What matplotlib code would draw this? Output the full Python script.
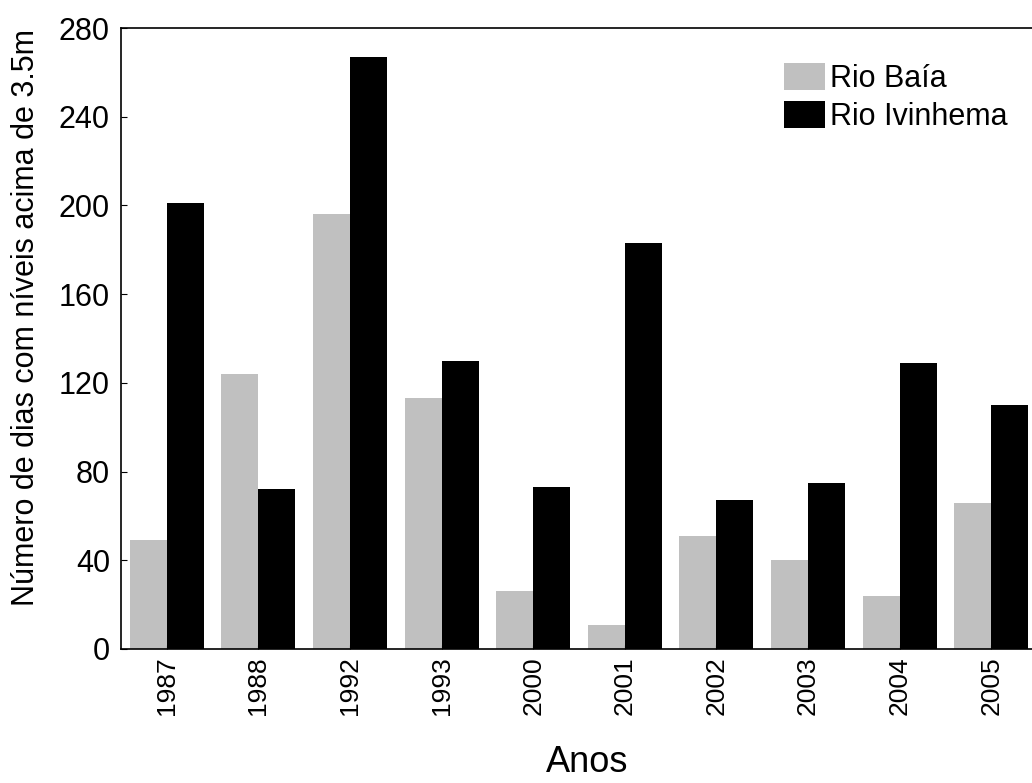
import numpy as np
import matplotlib
matplotlib.use("Agg")
import matplotlib.pyplot as plt

anos = ['1987', '1988', '1992', '1993', '2000', '2001', '2002', '2003', '2004', '2005']
rio_baia = [49, 124, 196, 113, 26, 11, 51, 40, 24, 66]
rio_ivinhema = [201, 72, 267, 130, 73, 183, 67, 75, 129, 110]

plt.rcParams['font.family'] = ['Liberation Sans', 'DejaVu Sans']

W, H = 1032, 783
fig = plt.figure(figsize=(W / 100, H / 100), dpi=100)
# axes runs a bit past the right edge of the figure, like the original
ax = fig.add_axes([121 / W, 1 - 649 / H, 916 / W, (649 - 28) / H])

x = np.arange(len(anos))
w = 0.404
ax.bar(x - w / 2, rio_baia, w, color='#c0c0c0', label='Rio Baía')
ax.bar(x + w / 2, rio_ivinhema, w, color='black', label='Rio Ivinhema')

ax.set_xlim(-0.5, 9.5)
ax.set_ylim(0, 280)
ax.set_yticks(range(0, 281, 40))
ax.set_xticks(x)
ax.set_xticklabels(anos, rotation=90, fontsize=19)
ax.tick_params(axis='y', direction='in', length=4, labelsize=22, pad=8)
ax.tick_params(axis='x', direction='in', length=3, pad=5)
ax.spines['right'].set_visible(False)
for s in ['left', 'top', 'bottom']:
    ax.spines[s].set_linewidth(1.2)

ax.set_ylabel('Número de dias com níveis acima de 3.5m', fontsize=22)
ax.yaxis.set_label_coords(-0.087, 0.534)
ax.set_xlabel('Anos', fontsize=26)
ax.xaxis.set_label_coords(0.509, -0.155)

ax.legend(loc='upper left', bbox_to_anchor=(784 / W, 1 - 63 / H),
          bbox_transform=fig.transFigure, frameon=False, fontsize=22,
          handlelength=1.34, handleheight=1.0, handletextpad=0.16,
          labelspacing=0.22, borderpad=0, borderaxespad=0)

fig.savefig('out.png', dpi=100)
